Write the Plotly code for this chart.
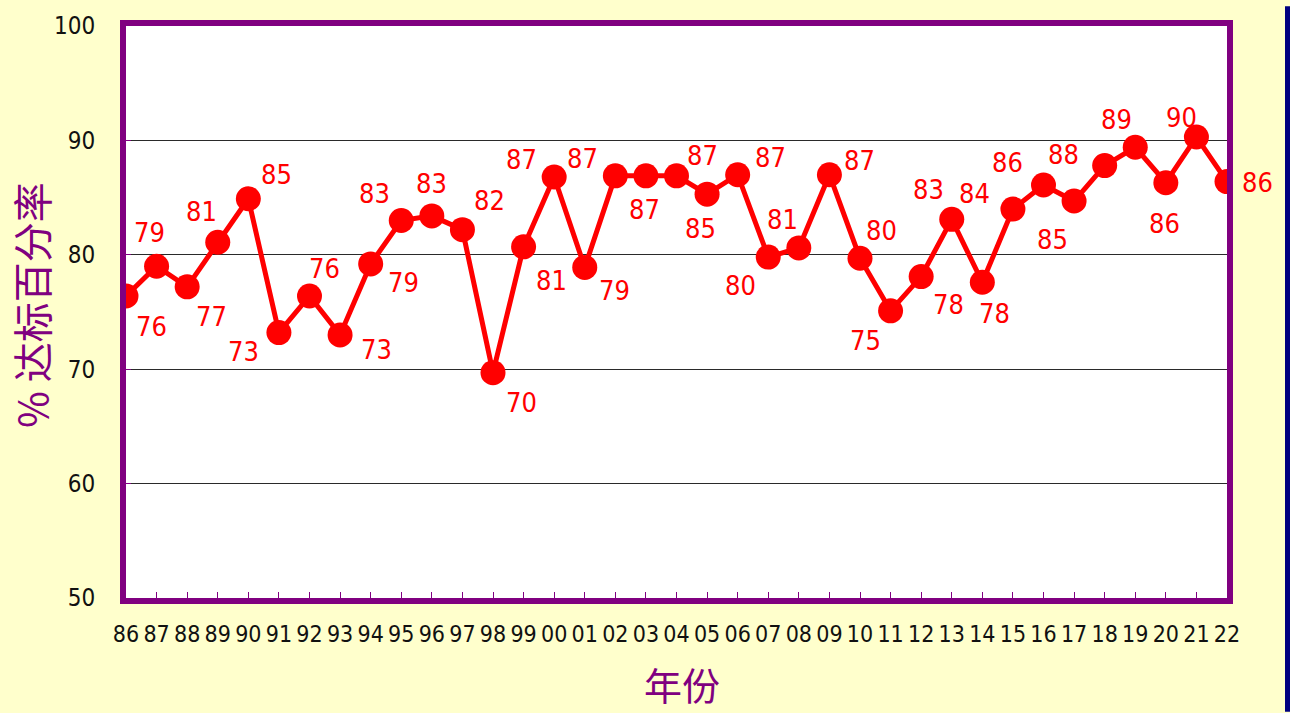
import plotly.graph_objects as go

# Years (two-digit) and the percentage reaching the standard
years = ["86", "87", "88", "89", "90", "91", "92", "93", "94", "95", "96", "97",
         "98", "99", "00", "01", "02", "03", "04", "05", "06", "07", "08", "09",
         "10", "11", "12", "13", "14", "15", "16", "17", "18", "19", "20", "21", "22"]
rates = [76.4, 79.0, 77.2, 81.1, 84.9, 73.2, 76.4, 73.0, 79.2, 83.0, 83.4, 82.2,
         69.7, 80.7, 86.8, 78.9, 86.9, 86.9, 86.9, 85.3, 87.0, 79.8, 80.6, 87.0,
         79.7, 75.1, 78.1, 83.1, 77.6, 84.0, 86.1, 84.7, 87.8, 89.4, 86.3, 90.3, 86.4]
y_ticks = [50, 60, 70, 80, 90, 100]

# Pixel offsets of each value label from its marker (dx right, dy down)
label_dx = [25, -7, 24, -16, 28, -35, 15, 36, 33, -27, 0, 27,
            28, 28, -33, 30, -33, -1, 26, -7, 33, -28, -16, 30,
            21, -25, 27, -23, 12, -38, -36, -22, -41, -19, -1, -15, 30]
label_dy = [31, -34, 30, -31, -24, 19, -27, 15, 19, -27, -32, -29,
            30, 34, -18, 23, -17, 34, -20, 34, -17, 28, -28, -14,
            -28, 30, 28, -30, 31, -16, -23, 38, -11, -28, 41, -19, 1]

PURPLE = "#800080"
RED = "#FF0000"
NARROW = "DejaVu Sans Condensed, Liberation Sans Narrow, sans-serif"
CJK = "Noto Sans CJK SC, sans-serif"

# Plot-area geometry in pixels
W, H = 1290, 713
L, R, T, B = 126, 63, 20, 115
PW, PH = W - L - R, H - T - B


def px_to_paper(px, py):
    return (px - L) / PW, (H - B - py) / PH


idx = list(range(len(years)))

fig = go.Figure()
fig.add_trace(go.Scatter(
    x=idx, y=rates, mode="lines+markers",
    line=dict(color=RED, width=5),
    marker=dict(color=RED, size=25),
    customdata=years, hovertemplate="%{customdata}: %{y}<extra></extra>",
    showlegend=False,
))

annotations = []
for i, v, dx, dy in zip(idx, rates, label_dx, label_dy):
    annotations.append(dict(
        x=i, y=v, xref="x", yref="y", text=f"{round(v)}", showarrow=False,
        xanchor="center", yanchor="middle",
        xshift=dx, yshift=-dy, font=dict(family=NARROW, size=27, color=RED),
    ))

ax, ay = px_to_paper(31, 302)
annotations.append(dict(
    x=ax, y=ay, xref="paper", yref="paper", text="% 达标百分率", textangle=-90,
    xanchor="center", yanchor="middle",
    showarrow=False, font=dict(family=CJK, size=40, color=PURPLE),
))
bx, by = px_to_paper(682, 684)
annotations.append(dict(
    x=bx, y=by, xref="paper", yref="paper", text="年份",
    xanchor="center", yanchor="middle",
    showarrow=False, font=dict(family=CJK, size=38, color=PURPLE),
))

sx0, _ = px_to_paper(1285, 0)
sx1, sy1 = px_to_paper(1291, 0)
_, sy0 = px_to_paper(0, H)

fig.update_layout(
    width=W, height=H,
    margin=dict(l=L, r=R, t=T, b=B, pad=0),
    paper_bgcolor="#FFFFCC",
    plot_bgcolor="#FFFFFF",
    annotations=annotations,
    shapes=[dict(type="rect", xref="paper", yref="paper",
                 x0=sx0, x1=sx1, y0=sy0, y1=sy1,
                 fillcolor="#000080", line=dict(width=0), layer="above")],
    xaxis=dict(
        range=[0, len(years) - 1], tickvals=idx, ticktext=years,
        showgrid=False, zeroline=False,
        showline=True, mirror=True, linecolor=PURPLE, linewidth=6,
        ticks="inside", ticklen=6, tickwidth=1, tickcolor=PURPLE,
        tickfont=dict(family=NARROW, size=23, color="#111111"),
        ticklabelstandoff=10,
    ),
    yaxis=dict(
        range=[50, 100], tickvals=y_ticks,
        showgrid=True, gridcolor="#2a2a2a", gridwidth=1, zeroline=False,
        showline=True, mirror=True, linecolor=PURPLE, linewidth=6,
        ticks="inside", ticklen=5, tickwidth=1, tickcolor=PURPLE,
        tickfont=dict(family=NARROW, size=24, color="#111111"),
        ticklabelstandoff=20,
    ),
)

fig.write_html("out.html")
